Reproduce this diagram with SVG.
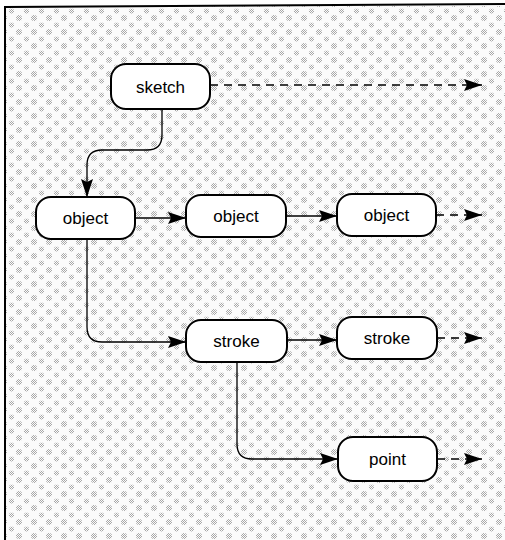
<svg xmlns="http://www.w3.org/2000/svg" width="505" height="540" viewBox="0 0 505 540">
<defs>
<pattern id="chk" width="2" height="2" patternUnits="userSpaceOnUse">
<rect x="0" y="0" width="1" height="1" fill="#a6a6a6"/>
<rect x="1" y="1" width="1" height="1" fill="#a6a6a6"/>
</pattern>
<pattern id="stip" width="15" height="14" patternUnits="userSpaceOnUse">
<rect width="15" height="14" fill="#fbfbfb"/>
<circle cx="4" cy="4" r="3" fill="url(#chk)"/>
<circle cx="11.5" cy="11" r="2.6" fill="url(#chk)"/>
</pattern>
<marker id="ah" markerUnits="userSpaceOnUse" markerWidth="20" markerHeight="14" refX="18" refY="7" orient="auto">
<path d="M0,1 L18,7 L0,13 L3,7 z" fill="#000"/>
</marker>
<style>
.node rect{fill:#fff;stroke:#000;stroke-width:2}
.node text{font-family:"Liberation Sans",Arial,sans-serif;font-size:17px;fill:#000;text-anchor:middle}
.c{fill:none;stroke:#000;stroke-width:1.3;marker-end:url(#ah)}
.d{stroke-dasharray:8,6}
</style>
</defs>
<rect x="5" y="6" width="500" height="534" fill="url(#stip)"/>
<path d="M5,540 V7 L505,4" fill="none" stroke="#000" stroke-width="2"/>
<g id="connectors">
<path class="c d" d="M210,85 H482"/>
<path class="c" d="M162,109 V135 Q162,150 147,150 H102 Q87,150 87,165 V197"/>
<path class="c" d="M135,218 H186"/>
<path class="c" d="M286,216 H337"/>
<path class="c d" d="M436,215 H482"/>
<path class="c" d="M87,239 V327 Q87,342 102,342 H186"/>
<path class="c" d="M287,340 H337"/>
<path class="c d" d="M437,338 H482"/>
<path class="c" d="M237,362 V444 Q237,459 252,459 H338"/>
<path class="c d" d="M437,459 H482"/>
</g>
<g id="sketch" class="node"><rect x="111" y="64" width="99" height="45" rx="15"/><text x="160.5" y="93">sketch</text></g>
<g id="object1" class="node"><rect x="36" y="197" width="99" height="42" rx="15"/><text x="85.5" y="224">object</text></g>
<g id="object2" class="node"><rect x="186" y="195" width="100" height="42" rx="15"/><text x="236" y="222">object</text></g>
<g id="object3" class="node"><rect x="337" y="194" width="99" height="42" rx="15"/><text x="386.5" y="221">object</text></g>
<g id="stroke1" class="node"><rect x="186" y="320" width="101" height="42" rx="15"/><text x="236.5" y="347">stroke</text></g>
<g id="stroke2" class="node"><rect x="337" y="317" width="100" height="42" rx="15"/><text x="387" y="344">stroke</text></g>
<g id="point" class="node"><rect x="338" y="437" width="99" height="44" rx="15"/><text x="387.5" y="465">point</text></g>
</svg>
